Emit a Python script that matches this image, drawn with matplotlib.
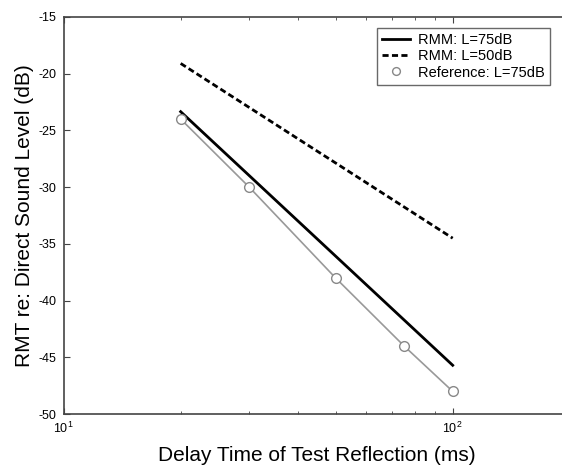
import numpy as np
from matplotlib import pyplot as plt

plt.rcParams['font.family'] = ['Liberation Sans', 'DejaVu Sans']
plt.rcParams['mathtext.fontset'] = 'custom'
plt.rcParams['mathtext.rm'] = 'Liberation Sans'
plt.rcParams['axes.unicode_minus'] = False

# Daten
delay_line = [20, 100]
rmm_75 = [-23.35, -45.7]
rmm_50 = [-19.1, -34.5]

delay_ref = [20, 30, 50, 75, 100]
ref_75 = [-24, -30, -38, -44, -48]

fig = plt.figure(figsize=(5.62, 4.70), dpi=100)
ax = fig.add_axes([0.113, 0.119, 0.901, 0.845])

ax.plot(delay_line, rmm_75, color='black', lw=2.0, label='RMM: L=75dB')
ax.plot(delay_line, rmm_50, color='black', lw=2.0, ls=(0, (2.2, 1.2)), label='RMM: L=50dB')
ax.plot(delay_ref, ref_75, color='#999999', lw=1.2)
ax.plot(delay_ref, ref_75, ls='none', marker='o', ms=7, mfc='white',
        mec='#888888', mew=1.0, label='Reference: L=75dB')

ax.set_xscale('log')
ax.set_xlim(10, 200)
ax.set_ylim(-50, -15)
ax.set_yticks(np.arange(-50, -14, 5))

for s in ax.spines.values():
    s.set_color('#444444')
    s.set_linewidth(1.2)
ax.spines['right'].set_visible(False)
ax.tick_params(which='both', direction='in', top=True, right=False, labelsize=9,
               color='#444444')
ax.tick_params(which='major', length=4, pad=5)
ax.tick_params(which='minor', length=2.5)

ax.set_xlabel('Delay Time of Test Reflection (ms)', fontsize=15, labelpad=7)
ax.set_ylabel('RMT re: Direct Sound Level (dB)', fontsize=15, labelpad=3)

leg = ax.legend(loc='upper right', bbox_to_anchor=(0.961, 0.972), borderaxespad=0,
                fontsize=10.5, frameon=True, fancybox=False, edgecolor='#444444',
                handlelength=1.9, handletextpad=0.6, borderpad=0.35,
                labelspacing=0.15, markerscale=0.8)
leg.get_frame().set_linewidth(1.0)

fig.savefig('out.png', dpi=100)
